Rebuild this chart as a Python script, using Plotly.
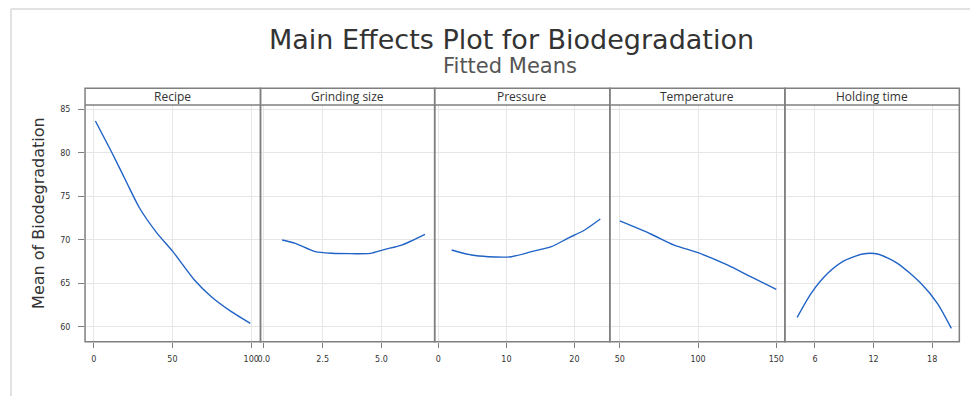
import plotly.graph_objects as go

W, H = 970, 396

# Fitted means for each factor
recipe_x = [1.08, 12.3, 20.7, 29.2, 39.8, 50.3, 64.1, 74.7, 87.4, 99.4]
recipe_y = [83.65, 79.74, 76.67, 73.62, 70.85, 68.63, 65.35, 63.45, 61.73, 60.39]

grind_x = [0.78, 1.34, 2.19, 2.89, 3.74, 4.52, 5.15, 5.86, 6.85]
grind_y = [69.97, 69.59, 68.63, 68.44, 68.40, 68.44, 68.9, 69.39, 70.62]

press_x = [1.95, 4.88, 7.32, 10.7, 13.7, 16.6, 19.0, 21.5, 23.8]
press_y = [68.82, 68.24, 68.05, 68.05, 68.63, 69.2, 70.16, 71.12, 72.38]

temp_x = [50, 69.8, 84.7, 100, 118.7, 133.6, 150]
temp_y = [72.16, 70.66, 69.39, 68.51, 67.1, 65.75, 64.3]

hold_x = [4.18, 5.61, 7.31, 9.01, 10.88, 12.41, 14.45, 16.84, 18.53, 19.96]
hold_y = [61.08, 63.84, 66.14, 67.59, 68.36, 68.36, 67.29, 64.99, 62.69, 59.82]

factors = ["Recipe", "Grinding size", "Pressure", "Temperature", "Holding time"]
series = [(recipe_x, recipe_y), (grind_x, grind_y), (press_x, press_y),
          (temp_x, temp_y), (hold_x, hold_y)]
x_ticks = [[0, 50, 100], [0.0, 2.5, 5.0], [0, 10, 20], [50, 100, 150], [6, 12, 18]]
x_ticktext = [["0", "50", "100"], ["0.0", "2.5", "5.0"], ["0", "10", "20"],
              ["50", "100", "150"], ["6", "12", "18"]]
x_ranges = [[-5.5, 105.9], [-0.14, 7.26], [-0.54, 25.2], [43.6, 155.5], [2.92, 20.78]]
y_ticks = [60, 65, 70, 75, 80, 85]
y_range = [58.28, 85.49]

# panel edges in pixels
edges = [82.3, 258.3, 433.0, 608.7, 784.3, 959.3]
plot_top, plot_bot, strip_top = 105.0, 341.7, 88.3


def px(x):
    return x / W


def py(y):
    return 1 - y / H


fig = go.Figure()
line_col = "#1f63c6"
grid_col = "#e6e6e6"
border_col = "#7f7f7f"
tick_font = dict(family="DejaVu Sans", size=8, color="#333333")

shapes = []
annotations = []
for i, (name, (xs, ys)) in enumerate(zip(factors, series)):
    n = "" if i == 0 else str(i + 1)
    fig.add_trace(go.Scatter(
        x=xs, y=ys, mode="lines", xaxis="x" + n, yaxis="y",
        line=dict(color=line_col, width=1.4, shape="spline", smoothing=0.7),
        showlegend=False, hoverinfo="skip",
    ))
    fig.layout["xaxis" + n] = dict(
        domain=[px(edges[i]), px(edges[i + 1])], range=x_ranges[i],
        anchor="y", tickvals=x_ticks[i], ticktext=x_ticktext[i],
        showgrid=True, gridcolor=grid_col, gridwidth=1, zeroline=False,
        ticks="outside", ticklen=5, tickcolor=border_col, tickwidth=1,
        ticklabelstandoff=5, tickfont=tick_font, showline=False, fixedrange=True,
    )
    # panel frame (strip + plot)
    shapes.append(dict(type="rect", xref="paper", yref="paper",
                       x0=px(edges[i]), x1=px(edges[i + 1]),
                       y0=py(plot_bot), y1=py(strip_top),
                       line=dict(color=border_col, width=1.5)))
    shapes.append(dict(type="line", xref="paper", yref="paper",
                       x0=px(edges[i]), x1=px(edges[i + 1]),
                       y0=py(plot_top), y1=py(plot_top),
                       line=dict(color=border_col, width=1.5)))
    annotations.append(dict(
        text=name, xref="paper", yref="paper",
        x=px((edges[i] + edges[i + 1]) / 2), y=py((strip_top + plot_top) / 2),
        xanchor="center", yanchor="middle", showarrow=False,
        font=dict(family="Open Sans", size=12, color="#333333"),
    ))

fig.layout["yaxis"] = dict(
    domain=[py(plot_bot), py(plot_top)], range=y_range, anchor="x",
    tickvals=y_ticks, showgrid=True, gridcolor=grid_col, gridwidth=1,
    zeroline=False, ticks="outside", ticklen=6, tickcolor=border_col,
    ticklabelstandoff=6, tickfont=tick_font, fixedrange=True,
)

# light outer frame
shapes.append(dict(type="line", xref="paper", yref="paper",
                   x0=px(8), x1=1.0, y0=py(9), y1=py(9),
                   line=dict(color="#e2e2e2", width=2)))
shapes.append(dict(type="line", xref="paper", yref="paper",
                   x0=px(8), x1=px(8), y0=py(9), y1=0.0,
                   line=dict(color="#e2e2e2", width=2)))

annotations += [
    dict(text="Main Effects Plot for Biodegradation", xref="paper", yref="paper",
         x=px(510), y=py(39), xanchor="center", yanchor="middle", showarrow=False,
         font=dict(family="DejaVu Sans", size=27, color="#333333")),
    dict(text="Fitted Means", xref="paper", yref="paper",
         x=px(509), y=py(66), xanchor="center", yanchor="middle", showarrow=False,
         font=dict(family="DejaVu Sans", size=21, color="#555555")),
    dict(text="Mean of Biodegradation", xref="paper", yref="paper",
         x=px(35), y=py(213), xanchor="center", yanchor="middle", showarrow=False,
         textangle=-90, font=dict(family="DejaVu Sans", size=16, color="#333333")),
]

fig.update_layout(
    width=W, height=H, margin=dict(l=0, r=0, t=0, b=0),
    paper_bgcolor="white", plot_bgcolor="white",
    shapes=shapes, annotations=annotations, showlegend=False,
)

fig.write_html("out.html", config={"displayModeBar": False})
